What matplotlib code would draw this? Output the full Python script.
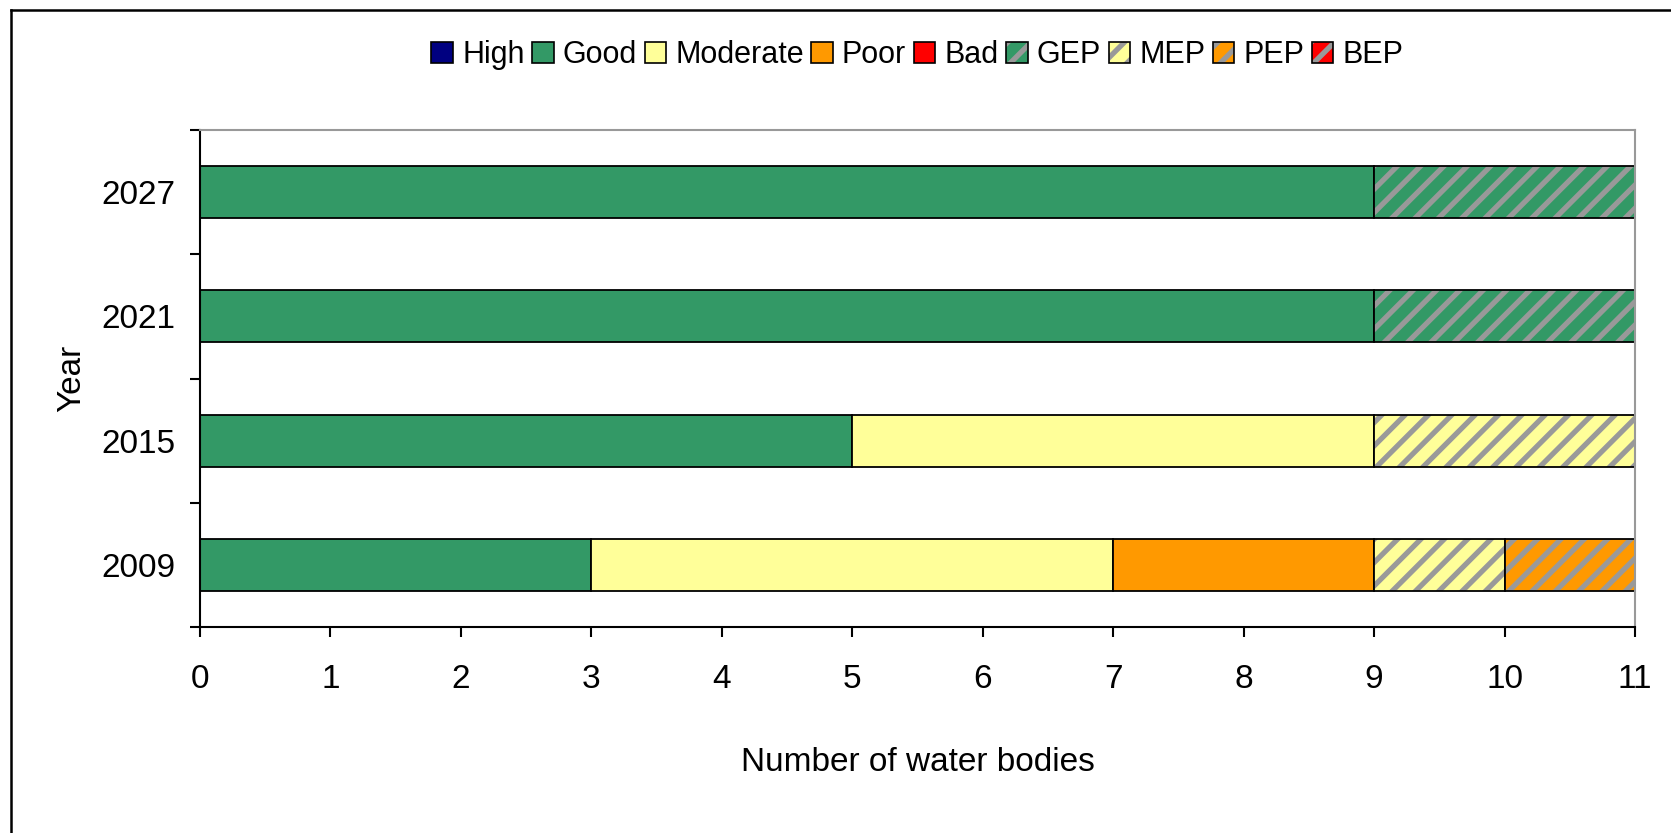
import matplotlib
matplotlib.use("Agg")
import matplotlib.pyplot as plt
from matplotlib.lines import Line2D
from matplotlib.patches import Patch
from matplotlib.legend_handler import HandlerTuple
import numpy as np

# low dpi so the hatch stripes come out as dense as in the original,
# every size below is scaled by S to compensate
DPI = 70
S = 100 / DPI

plt.rcParams['font.family'] = ['Liberation Sans', 'DejaVu Sans']
plt.rcParams['hatch.linewidth'] = 3.8 * S

years = ["2009", "2015", "2021", "2027"]
classes = ["High", "Good", "Moderate", "Poor", "Bad", "GEP", "MEP", "PEP", "BEP"]
# number of water bodies per class, one value per year (same order as years)
high = [0, 0, 0, 0]
good = [3, 5, 9, 9]
moderate = [4, 4, 0, 0]
poor = [2, 0, 0, 0]
bad = [0, 0, 0, 0]
gep = [0, 0, 2, 2]
mep = [1, 2, 0, 0]
pep = [1, 0, 0, 0]
bep = [0, 0, 0, 0]
xticks = list(range(0, 12))

series = [high, good, moderate, poor, bad, gep, mep, pep, bep]
colors = ["#000080", "#339966", "#FFFF99", "#FF9900", "#FF0000",
          "#339966", "#FFFF99", "#FF9900", "#FF0000"]
hatched = [False] * 5 + [True] * 4
hatch_col = "#999999"

fig = plt.figure(figsize=(1671 / DPI, 833 / DPI), dpi=DPI)
ax = fig.add_axes([0.1197, 0.2473, 0.8588, 0.5966])

ypos = np.arange(len(years))
left = np.zeros(len(years))
bar_h = 0.42
for vals, col, hat in zip(series, colors, hatched):
    vals = np.array(vals, dtype=float)
    if hat:
        ax.barh(ypos, vals, left=left, height=bar_h, color=col,
                edgecolor=hatch_col, hatch="/", linewidth=0)
        ax.barh(ypos, vals, left=left, height=bar_h, fill=False,
                edgecolor="black", linewidth=1.3 * S)
    else:
        ax.barh(ypos, vals, left=left, height=bar_h, color=col,
                edgecolor="black", linewidth=1.3 * S)
    left += vals

ax.set_xlim(0, 11)
ax.set_ylim(-0.5, 3.5)
ax.set_xticks(xticks)
ax.set_yticks(np.arange(-0.5, 4, 1))
ax.set_yticklabels([])
ax.set_yticks(ypos, minor=True)
ax.set_yticklabels(years, minor=True)
ax.tick_params(axis='y', which='minor', length=0, pad=18 * S, labelsize=24 * S)
ax.tick_params(axis='y', which='major', length=7 * S, width=1.5 * S, direction='out')
ax.tick_params(axis='x', length=7 * S, width=1.5 * S, direction='out', pad=20 * S,
               labelsize=24 * S)

for s in ['top', 'right']:
    ax.spines[s].set_color('#999999')
    ax.spines[s].set_linewidth(1.5 * S)
for s in ['left', 'bottom']:
    ax.spines[s].set_color('black')
    ax.spines[s].set_linewidth(1.5 * S)

ax.set_xlabel("Number of water bodies", fontsize=24 * S, labelpad=37 * S)
ax.set_ylabel("Year", fontsize=24 * S, labelpad=10 * S)

handles = []
for name, col, hat in zip(classes, colors, hatched):
    if hat:
        handles.append((Patch(facecolor=col, edgecolor=hatch_col, hatch="/", linewidth=0),
                        Patch(fill=False, edgecolor="black", linewidth=1.2 * S)))
    else:
        handles.append(Patch(facecolor=col, edgecolor="black", linewidth=1.2 * S))
leg = fig.legend(handles, classes, loc='center', bbox_to_anchor=(0.549, 0.934),
                 ncol=9, frameon=False, fontsize=22 * S, handlelength=0.7,
                 handleheight=0.7, handletextpad=0.3, columnspacing=0.25,
                 handler_map={tuple: HandlerTuple(ndivide=1, pad=0)})

# outer frame (only left and top visible in the picture)
fig.add_artist(Line2D([11 / 1671, 11 / 1671], [0, 1 - 10 / 833], color='black', lw=1.8 * S))
fig.add_artist(Line2D([11 / 1671, 1], [1 - 10 / 833, 1 - 10 / 833], color='black', lw=1.8 * S))

fig.savefig("out.png", dpi=DPI)
